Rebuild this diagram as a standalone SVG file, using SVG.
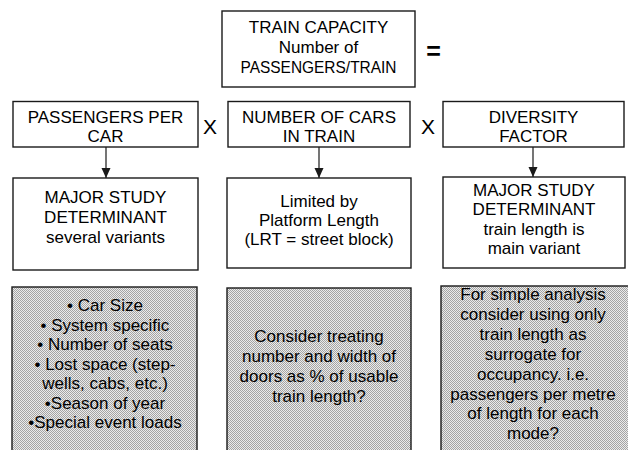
<svg xmlns="http://www.w3.org/2000/svg" width="628" height="450" viewBox="0 0 628 450">
  <style>
    text { font-family: "Liberation Sans", Arial, sans-serif; font-size: 17px; fill: #000; text-anchor: middle; }
    .box { fill: #fff; stroke: #1a1a1a; stroke-width: 1.4; }
    .shade { fill: url(#dots); stroke: #1a1a1a; stroke-width: 1.4; }
    .op { font-size: 21px; }
    .eq { font-size: 25px; font-weight: bold; }
    .conn { stroke: #1a1a1a; stroke-width: 1.2; fill: none; marker-end: url(#arrow); }
  </style>
  <defs>
    <pattern id="dots" width="2" height="2" patternUnits="userSpaceOnUse">
      <rect width="2" height="2" fill="#ebebeb"/>
      <rect width="1" height="1" fill="#a4a4a4"/>
      <rect x="1" y="1" width="1" height="1" fill="#a4a4a4"/>
    </pattern>
    <marker id="arrow" markerWidth="11" markerHeight="11" refX="10" refY="5.5" orient="auto" markerUnits="userSpaceOnUse">
      <path d="M0,1 L10,5.5 L0,10 Z" fill="#1a1a1a"/>
    </marker>
  </defs>

  <g id="train-capacity">
    <rect class="box" x="222" y="11" width="193" height="76"/>
    <text x="318.5" y="33">TRAIN CAPACITY</text>
    <text x="318.5" y="53">Number of</text>
    <text x="318.5" y="73" textLength="156" lengthAdjust="spacingAndGlyphs">PASSENGERS/TRAIN</text>
  </g>
  <text class="eq" x="433.5" y="60">=</text>

  <g id="passengers-per-car">
    <rect class="box" x="13" y="101.5" width="185" height="45.5"/>
    <text x="105.5" y="123">PASSENGERS PER</text>
    <text x="105.5" y="142">CAR</text>
  </g>
  <text class="op" x="210" y="134">X</text>
  <g id="number-of-cars">
    <rect class="box" x="228" y="101.5" width="182" height="45.5"/>
    <text x="319" y="123">NUMBER OF CARS</text>
    <text x="319" y="142">IN TRAIN</text>
  </g>
  <text class="op" x="428" y="134">X</text>
  <g id="diversity-factor">
    <rect class="box" x="443" y="101.5" width="181" height="45.5"/>
    <text x="533.5" y="123">DIVERSITY</text>
    <text x="533.5" y="142">FACTOR</text>
  </g>

  <g id="connectors">
    <line class="conn" x1="106" y1="147" x2="106" y2="178"/>
    <line class="conn" x1="319" y1="147" x2="319" y2="178"/>
    <line class="conn" x1="533" y1="147" x2="533" y2="177"/>
  </g>

  <g id="major-study-1">
    <rect class="box" x="13" y="178" width="185" height="92"/>
    <text x="105.5" y="203">MAJOR STUDY</text>
    <text x="105.5" y="223">DETERMINANT</text>
    <text x="105.5" y="243">several variants</text>
  </g>
  <g id="limited-by">
    <rect class="box" x="227" y="178" width="184" height="90"/>
    <text x="319" y="207">Limited by</text>
    <text x="319" y="226">Platform Length</text>
    <text x="319" y="245">(LRT = street block)</text>
  </g>
  <g id="major-study-2">
    <rect class="box" x="443" y="177" width="182" height="91"/>
    <text x="534" y="196">MAJOR STUDY</text>
    <text x="534" y="215">DETERMINANT</text>
    <text x="534" y="235">train length is</text>
    <text x="534" y="254">main variant</text>
  </g>

  <g id="note-car">
    <rect class="shade" x="12" y="287" width="185" height="170"/>
    <text x="105" y="311">• Car Size</text>
    <text x="105" y="331">• System specific</text>
    <text x="105" y="350">• Number of seats</text>
    <text x="105" y="370">• Lost space (step-</text>
    <text x="105" y="389">wells, cabs, etc.)</text>
    <text x="105" y="409">•Season of year</text>
    <text x="105" y="428">•Special event loads</text>
  </g>
  <g id="note-doors">
    <rect class="shade" x="227" y="288" width="184" height="170"/>
    <text x="319" y="342">Consider treating</text>
    <text x="319" y="362">number and width of</text>
    <text x="319" y="382">doors as % of usable</text>
    <text x="319" y="402">train length?</text>
  </g>
  <g id="note-length">
    <rect class="shade" x="441" y="286" width="192" height="172"/>
    <text x="533" y="300">For simple analysis</text>
    <text x="533" y="320">consider using only</text>
    <text x="533" y="339.5">train length as</text>
    <text x="533" y="359.5">surrogate for</text>
    <text x="533" y="379.5">occupancy. i.e.</text>
    <text x="533" y="399.5">passengers per metre</text>
    <text x="533" y="419">of length for each</text>
    <text x="533" y="439">mode?</text>
  </g>
</svg>
